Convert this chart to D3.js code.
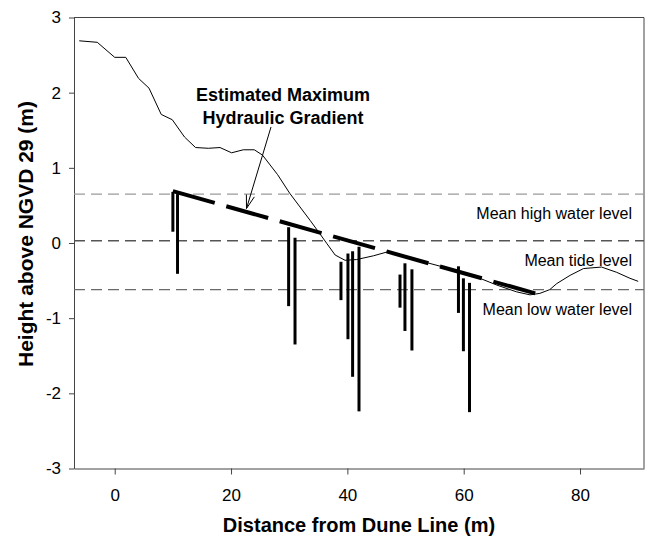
<!DOCTYPE html>
<html>
<head>
<meta charset="utf-8">
<script src="https://cdn.jsdelivr.net/npm/d3@7"></script>
<style>
    body { margin: 0; background: #fff; }
    text { font-family: "Liberation Sans", Arial, sans-serif; }
</style>
</head>
<body>
<script>
//  Chart size and plot box
var w = 648;
var h = 545;
var boxLeft = 74, boxTop = 17.5, boxRight = 644, boxBottom = 468.5;

//  Beach profile (distance m, height m)
var profileX = [-6.1, -3.0, 0.0, 1.9, 4.1, 5.9, 8.0, 9.9, 12.0, 13.9, 16.1, 18.1, 20.1, 22.1, 24.0, 25.4,
    28.0, 30.1, 33.6, 35.3, 36.5, 37.9, 39.6, 41.6, 44.5, 46.8, 48.5, 51.3, 53.6, 56.5, 58.8,
    62.8, 65.7, 69.1, 71.4, 73.1, 74.8, 76.0, 78.3, 80.6, 83.7, 86.3, 88.6, 90.0];
var profileY = [2.69, 2.67, 2.47, 2.47, 2.19, 2.06, 1.71, 1.64, 1.41, 1.27, 1.26, 1.27, 1.20, 1.24, 1.24, 1.17,
    0.91, 0.66, 0.30, 0.12, -0.01, -0.16, -0.23, -0.22, -0.17, -0.12, -0.14, -0.21, -0.26, -0.32, -0.36,
    -0.47, -0.56, -0.65, -0.69, -0.67, -0.62, -0.54, -0.43, -0.34, -0.32, -0.39, -0.47, -0.51];

//  Wells: position, top and bottom of screen (m)
var wellX      = [10.0, 10.8, 29.9, 31.0, 38.9, 40.1, 40.9, 42.0, 49.05, 49.9, 51.1, 59.1, 59.95, 61.0];
var wellTop    = [0.68, 0.65, 0.21, 0.07, -0.25, -0.14, -0.11, -0.05, -0.42, -0.27, -0.35, -0.31, -0.47, -0.53];
var wellBottom = [0.15, -0.41, -0.84, -1.35, -0.76, -1.28, -1.78, -2.24, -0.86, -1.17, -1.43, -0.93, -1.44, -2.25];

//  Estimated maximum hydraulic gradient (start and end)
var gradX = [10.0, 72.3];
var gradY = [0.69, -0.67];

//  Tidal datums
var levelNames = ["Mean high water level", "Mean tide level", "Mean low water level"];
var levelValues = [0.65, 0.03, -0.62];

var xTicks = [0, 20, 40, 60, 80];
var yTicks = [-3, -2, -1, 0, 1, 2, 3];

var xScale = d3.scaleLinear()
    .domain([-7, 91])
    .range([boxLeft, boxRight]);

var yScale = d3.scaleLinear()
    .domain([-3, 3])
    .range([boxBottom, boxTop]);

var svg = d3.select("body")
    .append("svg")
    .attr("width", w)
    .attr("height", h);

//  Axes (plain hyphen for negatives)
var xAxis = d3.axisBottom(xScale)
    .tickValues(xTicks)
    .tickFormat(function(d) { return String(d); })
    .tickSize(6)
    .tickPadding(14)
    .tickSizeOuter(0);

var yAxis = d3.axisLeft(yScale)
    .tickValues(yTicks)
    .tickFormat(function(d) { return String(d); })
    .tickSize(5)
    .tickPadding(8)
    .tickSizeOuter(0);

var gx = svg.append("g")
    .attr("transform", "translate(0," + boxBottom + ")")
    .call(xAxis);

var gy = svg.append("g")
    .attr("transform", "translate(" + boxLeft + ",0)")
    .call(yAxis);

[gx, gy].forEach(function(g) {
    g.selectAll("path, line").attr("stroke", "#444");
    g.selectAll("text")
        .attr("fill", "#000")
        .style("font-size", "17px");
});

//  Top and right frame
svg.append("path")
    .attr("d", "M" + boxLeft + "," + boxTop + "H" + boxRight + "V" + boxBottom)
    .attr("fill", "none")
    .attr("stroke", "#444");

//  Dashed datum lines
var levelColors = ["#9a9a9a", "#555", "#6a6a6a"];
svg.selectAll(".level")
    .data(levelValues)
    .enter()
    .append("line")
    .attr("x1", boxLeft)
    .attr("x2", boxRight)
    .attr("y1", function(d) { return yScale(d); })
    .attr("y2", function(d) { return yScale(d); })
    .attr("stroke", function(d, i) { return levelColors[i]; })
    .attr("stroke-width", 1.3)
    .attr("stroke-dasharray", "11,6");

//  Datum labels, right aligned below each line
svg.selectAll(".levelLabel")
    .data(levelNames)
    .enter()
    .append("text")
    .attr("x", 632)
    .attr("y", function(d, i) { return yScale(levelValues[i]) + 25; })
    .attr("text-anchor", "end")
    .style("font-size", "16px")
    .text(function(d) { return d; });

//  Profile line
var line = d3.line()
    .x(function(d) { return xScale(d[0]); })
    .y(function(d) { return yScale(d[1]); });

svg.append("path")
    .datum(d3.zip(profileX, profileY))
    .attr("d", line)
    .attr("fill", "none")
    .attr("stroke", "#000")
    .attr("stroke-width", 1);

//  Wells
svg.selectAll(".well")
    .data(wellX)
    .enter()
    .append("line")
    .attr("x1", function(d) { return xScale(d); })
    .attr("x2", function(d) { return xScale(d); })
    .attr("y1", function(d, i) { return yScale(wellTop[i]); })
    .attr("y2", function(d, i) { return yScale(wellBottom[i]); })
    .attr("stroke", "#000")
    .attr("stroke-width", 3);

//  Gradient line
svg.append("path")
    .datum(d3.zip(gradX, gradY))
    .attr("d", line)
    .attr("fill", "none")
    .attr("stroke", "#000")
    .attr("stroke-width", 4)
    .attr("stroke-dasharray", "43.5,12");

//  Annotation and arrow
var note = svg.append("text")
    .attr("x", 283)
    .attr("text-anchor", "middle")
    .style("font-size", "18px")
    .style("font-weight", "bold");
note.append("tspan").attr("x", 283).attr("y", 101).text("Estimated Maximum");
note.append("tspan").attr("x", 283).attr("y", 124).text("Hydraulic Gradient");

var ax1 = 271, ay1 = 127, ax2 = 246.5, ay2 = 208.5;
var ang = Math.atan2(ay2 - ay1, ax2 - ax1);
var headLen = 14, headAng = 0.3;
svg.append("line")
    .attr("x1", ax1).attr("y1", ay1)
    .attr("x2", ax2).attr("y2", ay2)
    .attr("stroke", "#000")
    .attr("stroke-width", 1);
svg.append("path")
    .attr("d", "M" + (ax2 - headLen * Math.cos(ang - headAng)) + "," + (ay2 - headLen * Math.sin(ang - headAng)) +
        "L" + ax2 + "," + ay2 +
        "L" + (ax2 - headLen * Math.cos(ang + headAng)) + "," + (ay2 - headLen * Math.sin(ang + headAng)))
    .attr("fill", "none")
    .attr("stroke", "#000")
    .attr("stroke-width", 1);

//  Axis titles
svg.append("text")
    .attr("x", 359)
    .attr("y", 532)
    .attr("text-anchor", "middle")
    .style("font-size", "20px")
    .style("font-weight", "bold")
    .text("Distance from Dune Line (m)");

svg.append("text")
    .attr("transform", "rotate(-90)")
    .attr("x", -234)
    .attr("y", 33)
    .attr("text-anchor", "middle")
    .style("font-size", "21px")
    .style("font-weight", "bold")
    .text("Height above NGVD 29 (m)");
</script>
</body>
</html>
